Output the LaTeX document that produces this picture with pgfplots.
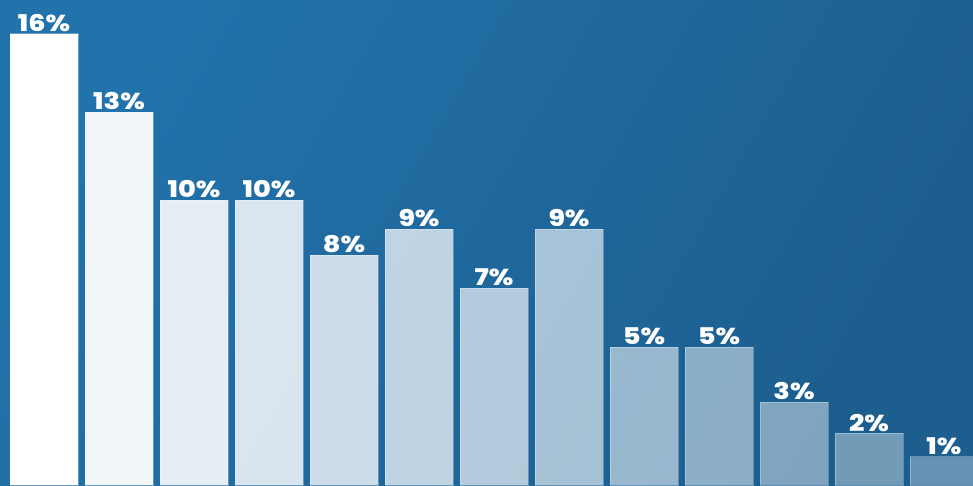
\documentclass[border=0pt]{standalone}
\usepackage{pgfplots}
\pgfplotsset{compat=1.18}
\usepackage{graphicx}
\usepackage{fontspec}
\setmainfont{Poppins}
\newfontfamily\labelfont{Poppins ExtraBold}
\definecolor{bglight}{HTML}{2272AB}
\definecolor{bgdark}{HTML}{1C5E8E}
\begin{document}
\begin{tikzpicture}[x=1pt,y=1pt]
\useasboundingbox (0,0) rectangle (973,486);
\shade[top color=bglight, bottom color=bgdark, shading angle=60] (0,0) rectangle (973,486);
\begin{axis}[
  at={(0,0)}, anchor=south west,
  scale only axis, width=973pt, height=486pt,
  hide axis,
  xmin=-0.5867, xmax=12.387,
  ymin=-0.035, ymax=17.19,
  ybar, bar width=0.906,
  point meta=explicit symbolic,
  nodes near coords={\scalebox{1.18}[1]{\pgfplotspointmeta}},
  every node near coord/.append style={font=\labelfont\fontsize{23}{23}\selectfont, text=white, text opacity=1, fill opacity=1, inner sep=0pt, anchor=south, yshift=1.5pt},
  clip=true,
]
\addplot[bar shift=0pt, fill=white, fill opacity=1.000, draw=white, draw opacity=0.3, line width=0.8pt] coordinates {(0,16.00) [16\%]};
\addplot[bar shift=0pt, fill=white, fill opacity=0.943, draw=white, draw opacity=0.3, line width=0.8pt] coordinates {(1,13.22) [13\%]};
\addplot[bar shift=0pt, fill=white, fill opacity=0.886, draw=white, draw opacity=0.3, line width=0.8pt] coordinates {(2,10.10) [10\%]};
\addplot[bar shift=0pt, fill=white, fill opacity=0.830, draw=white, draw opacity=0.3, line width=0.8pt] coordinates {(3,10.10) [10\%]};
\addplot[bar shift=0pt, fill=white, fill opacity=0.774, draw=white, draw opacity=0.3, line width=0.8pt] coordinates {(4,8.15) [8\%]};
\addplot[bar shift=0pt, fill=white, fill opacity=0.718, draw=white, draw opacity=0.3, line width=0.8pt] coordinates {(5,9.07) [9\%]};
\addplot[bar shift=0pt, fill=white, fill opacity=0.662, draw=white, draw opacity=0.3, line width=0.8pt] coordinates {(6,6.98) [7\%]};
\addplot[bar shift=0pt, fill=white, fill opacity=0.606, draw=white, draw opacity=0.3, line width=0.8pt] coordinates {(7,9.07) [9\%]};
\addplot[bar shift=0pt, fill=white, fill opacity=0.550, draw=white, draw opacity=0.3, line width=0.8pt] coordinates {(8,4.89) [5\%]};
\addplot[bar shift=0pt, fill=white, fill opacity=0.494, draw=white, draw opacity=0.3, line width=0.8pt] coordinates {(9,4.89) [5\%]};
\addplot[bar shift=0pt, fill=white, fill opacity=0.438, draw=white, draw opacity=0.3, line width=0.8pt] coordinates {(10,2.94) [3\%]};
\addplot[bar shift=0pt, fill=white, fill opacity=0.382, draw=white, draw opacity=0.3, line width=0.8pt] coordinates {(11,1.83) [2\%]};
\addplot[bar shift=0pt, fill=white, fill opacity=0.330, draw=white, draw opacity=0.3, line width=0.8pt] coordinates {(12,1.00) [1\%]};
\end{axis}
\end{tikzpicture}
\end{document}
